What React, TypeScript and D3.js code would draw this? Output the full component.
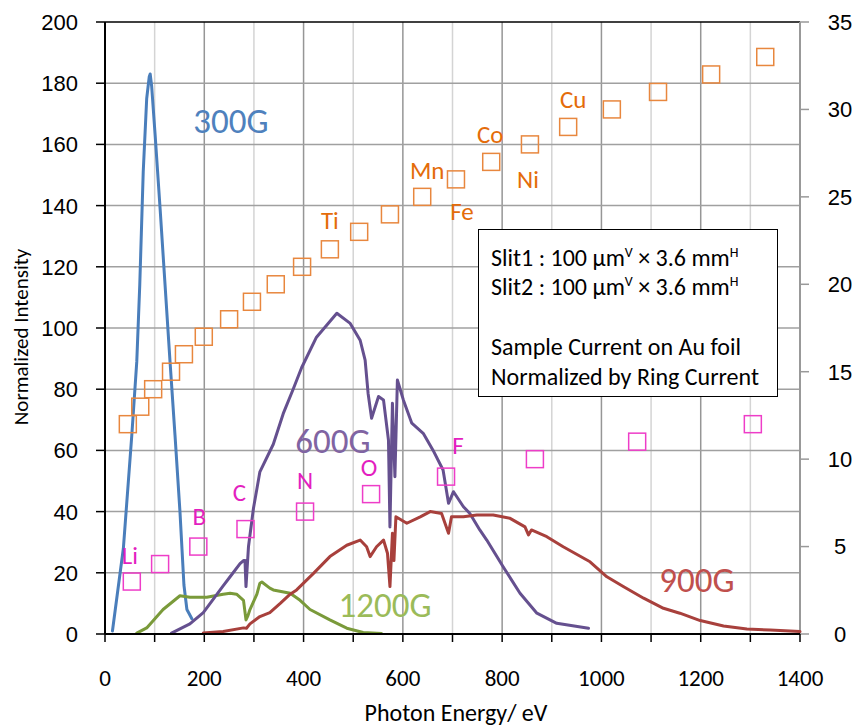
import * as d3 from "d3";

// 300G grating
const g300E = [15, 37, 54, 64, 70, 77, 84, 89, 91, 94, 101, 111, 121, 131, 141, 151, 159, 165, 175];
const g300V = [1, 28, 65, 89, 114, 151, 175, 182, 183, 179, 163, 139, 114, 89, 65, 40, 16, 8, 5];

// 600G grating
const g600E = [134, 171, 198, 238, 252, 272, 279, 282, 284, 289, 299, 312, 339, 359, 379, 396, 426, 467, 494, 514, 524, 530, 537, 551, 561, 571, 574, 579, 584, 589, 601, 618, 641, 661, 681, 692, 702, 722, 735, 755, 769, 802, 836, 870, 910, 974];
const g600V = [0.3, 3.3, 7, 15.7, 18.7, 23, 24, 24, 15.5, 28.5, 41, 53, 62, 72, 80, 87, 97, 104.8, 101.5, 96, 89.5, 78.6, 70.5, 77.6, 76.5, 63.4, 35, 75.4, 51.4, 83, 76.5, 68.9, 65.6, 60, 53.6, 42.7, 46.5, 41.6, 39.4, 34, 30.7, 22, 13.3, 6.8, 3.5, 1.9];

// 900G grating
const g900E = [198, 238, 279, 285, 292, 312, 332, 353, 373, 386, 420, 453, 487, 514, 527, 534, 547, 561, 569, 574, 579, 582, 586, 608, 635, 655, 678, 692, 698, 722, 749, 782, 816, 846, 853, 859, 890, 923, 977, 1011, 1044, 1085, 1125, 1158, 1199, 1246, 1293, 1340, 1400];
const g900V = [0.3, 0.8, 2, 1.9, 3.3, 5.7, 7, 10, 13, 14.4, 19.8, 25.3, 29, 30.7, 28.5, 25.3, 28.5, 30.7, 26.4, 15.5, 32.9, 24, 38.3, 36.2, 38.3, 40, 39.4, 32.9, 38.3, 38.3, 38.9, 38.9, 37.8, 35, 32.4, 34, 31.8, 28.5, 23.6, 18.7, 15.5, 11.7, 8.4, 6.8, 4.4, 2.6, 1.6, 1.3, 0.8];

// 1200G grating
const g1200E = [64, 84, 117, 151, 171, 205, 238, 252, 265, 279, 284, 288, 292, 306, 312, 316, 332, 339, 373, 393, 413, 453, 487, 520, 557];
const g1200V = [0.3, 2, 8, 12.5, 12, 12, 13, 13.3, 13, 11, 4.6, 6, 8, 13, 16.6, 17, 15, 14.4, 13.3, 11, 8, 4.6, 1.9, 0.5, 0.2];

// L-edges (orange) and K-edges (magenta), right axis = atomic number
const lEdgeE = [46, 71, 97, 133, 159, 199, 250, 296, 344, 397, 453, 512, 574, 639, 707, 778, 856, 933, 1021, 1114, 1221, 1330];
const lEdgeZ = [12, 13, 14, 15, 16, 17, 18, 19, 20, 21, 22, 23, 24, 25, 26, 27, 28, 29, 30, 31, 32, 33];
const kEdgeE = [54, 111, 188, 283, 403, 536, 687, 866, 1072, 1305];
const kEdgeZ = [3, 4, 5, 6, 7, 8, 9, 10, 11, 12];

const lLabels = ["Ti", "Mn", "Fe", "Co", "Ni", "Cu"];
const lLabelZ = [22, 25, 26, 27, 28, 29];
const kLabels = ["Li", "B", "C", "N", "O", "F"];
const kLabelZ = [3, 5, 6, 7, 8, 9];

const xTicks = [0, 200, 400, 600, 800, 1000, 1200, 1400];
const yTicks = [0, 20, 40, 60, 80, 100, 120, 140, 160, 180, 200];
const y2Ticks = [0, 5, 10, 15, 20, 25, 30, 35];

const font = "Carlito, Lato, sans-serif";
const arial = "'Liberation Sans', Arial, sans-serif";

// label offsets (px, baseline) relative to their marker
const lOffsets: Record<string, [number, number]> = {
  Ti: [0, -20], Mn: [5, -18], Fe: [6, 41], Co: [-1, -19], Ni: [-2, 44], Cu: [5, -19],
};
const kOffsets: Record<string, [number, number]> = {
  Li: [-2, -18], B: [1, -22], C: [-6, -28], N: [0, -23], O: [-2, -18], F: [12, -23],
};

export default function App() {
  const width = 857;
  const height = 726;
  const left = 105;
  const right = 800;
  const top = 22;
  const bottom = 634;

  const x = d3.scaleLinear().domain([0, 1400]).range([left, right]);
  const y = d3.scaleLinear().domain([0, 200]).range([bottom, top]);
  const y2 = d3.scaleLinear().domain([0, 35]).range([bottom, top]);

  const line = d3
    .line<[number, number]>()
    .x((d) => x(d[0]))
    .y((d) => y(d[1]));

  const zip = (a: number[], b: number[]) => a.map((v, i) => [v, b[i]] as [number, number]);

  const curves = [
    { e: g300E, v: g300V, color: "#4a7ebb" },
    { e: g1200E, v: g1200V, color: "#7a9a3a" },
    { e: g600E, v: g600V, color: "#65508f" },
    { e: g900E, v: g900V, color: "#a8403c" },
  ];

  const sq = 17;
  const minor = d3.range(0, 1401, 100);

  return (
    <svg
      width={width}
      height={height}
      style={{ position: "absolute", left: 0, top: 0, background: "#fff" }}
      fontFamily={font}
    >
      {/* grid */}
      {minor.map((t) => (
        <line
          key={"v" + t}
          x1={x(t)}
          x2={x(t)}
          y1={top}
          y2={bottom}
          stroke={t % 200 === 0 ? "#969696" : "#d4d4d4"}
          strokeWidth={1.5}
        />
      ))}
      {yTicks.map((t) => (
        <line
          key={"h" + t}
          x1={left}
          x2={right}
          y1={y(t)}
          y2={y(t)}
          stroke={t === 200 ? "#000" : "#a0a0a0"}
          strokeWidth={1.5}
        />
      ))}

      {/* right axis */}
      <line x1={right} x2={right} y1={top} y2={bottom} stroke="#999" strokeWidth={2} />
      {y2Ticks.map((t) => (
        <g key={"r" + t}>
          <line x1={right} x2={right + 9} y1={y2(t)} y2={y2(t)} stroke="#999" strokeWidth={1.5} />
          <text x={840} y={y2(t)} dy="0.36em" textAnchor="middle" fontSize={22} fontFamily={arial} fill="#000">
            {t}
          </text>
        </g>
      ))}

      {/* curves */}
      {curves.map((c, i) => (
        <path
          key={i}
          d={line(zip(c.e, c.v)) || ""}
          fill="none"
          stroke={c.color}
          strokeWidth={3}
          strokeLinejoin="round"
          strokeLinecap="round"
        />
      ))}

      {/* edge markers */}
      {lEdgeE.map((e, i) => (
        <rect
          key={"l" + i}
          x={x(e) - sq / 2}
          y={y2(lEdgeZ[i]) - sq / 2}
          width={sq}
          height={sq}
          fill="none"
          stroke="#e8873e"
          strokeWidth={1.5}
        />
      ))}
      {kEdgeE.map((e, i) => (
        <rect
          key={"k" + i}
          x={x(e) - sq / 2}
          y={y2(kEdgeZ[i]) - sq / 2}
          width={sq}
          height={sq}
          fill="none"
          stroke="#ee3dc8"
          strokeWidth={1.5}
        />
      ))}

      {lLabels.map((name, i) => {
        const idx = lEdgeZ.indexOf(lLabelZ[i]);
        const [dx, dy] = lOffsets[name];
        return (
          <text
            key={name}
            x={x(lEdgeE[idx]) + dx}
            y={y2(lEdgeZ[idx]) + dy}
            textAnchor="middle"
            fontSize={25}
            fill="#e46c0a"
          >
            {name}
          </text>
        );
      })}
      {kLabels.map((name, i) => {
        const idx = kEdgeZ.indexOf(kLabelZ[i]);
        const [dx, dy] = kOffsets[name];
        return (
          <text
            key={name}
            x={x(kEdgeE[idx]) + dx}
            y={y2(kEdgeZ[idx]) + dy}
            textAnchor="middle"
            fontSize={25}
            fill="#e31fc0"
          >
            {name}
          </text>
        );
      })}

      {/* curve labels */}
      <text x={231} y={133} textAnchor="middle" fontSize={35} fill="#4f81bd">300G</text>
      <text x={333} y={453} textAnchor="middle" fontSize={35} fill="#8064a2">600G</text>
      <text x={385} y={617} textAnchor="middle" fontSize={35} fill="#9bbb59">1200G</text>
      <text x={697} y={592} textAnchor="middle" fontSize={35} fill="#c0504d">900G</text>

      {/* info box */}
      <rect x={478.5} y={229.5} width={299} height={167} fill="#fff" stroke="#000" strokeWidth={1} />
      <g fontSize={24} fill="#000">
        <text x={491} y={266}>
          Slit1 : 100 μm<tspan fontSize={14} dy={-9}>V</tspan>
          <tspan dy={9}> × 3.6 mm</tspan>
          <tspan fontSize={14} dy={-9}>H</tspan>
        </text>
        <text x={491} y={295}>
          Slit2 : 100 μm<tspan fontSize={14} dy={-9}>V</tspan>
          <tspan dy={9}> × 3.6 mm</tspan>
          <tspan fontSize={14} dy={-9}>H</tspan>
        </text>
        <text x={491} y={355}>Sample Current&#160;on Au foil</text>
        <text x={491} y={385}>Normalized by Ring Current</text>
      </g>

      {/* left axis */}
      <line x1={left} x2={left} y1={top} y2={bottom} stroke="#000" strokeWidth={2} />
      {yTicks.map((t) => (
        <g key={"l" + t}>
          <line x1={left - 9} x2={left} y1={y(t)} y2={y(t)} stroke="#000" strokeWidth={1.5} />
          <text x={78} y={y(t)} dy="0.36em" textAnchor="end" fontSize={22} fontFamily={arial} fill="#000">
            {t}
          </text>
        </g>
      ))}

      {/* bottom axis */}
      <line x1={left} x2={right} y1={bottom} y2={bottom} stroke="#000" strokeWidth={2} />
      {minor.map((t) => (
        <line key={"bt" + t} x1={x(t)} x2={x(t)} y1={bottom} y2={bottom + 8} stroke="#000" strokeWidth={1.5} />
      ))}
      {xTicks.map((t) => (
        <text key={"bl" + t} x={x(t)} y={686} textAnchor="middle" fontSize={23} fill="#000">
          {t}
        </text>
      ))}

      <text x={456} y={721} textAnchor="middle" fontSize={24} fill="#000">
        Photon Energy/ eV
      </text>
      <text
        transform={`translate(28,337) rotate(-90)`}
        textAnchor="middle"
        fontSize={21}
        fill="#000"
      >
        Normalized Intensity
      </text>
    </svg>
  );
}
